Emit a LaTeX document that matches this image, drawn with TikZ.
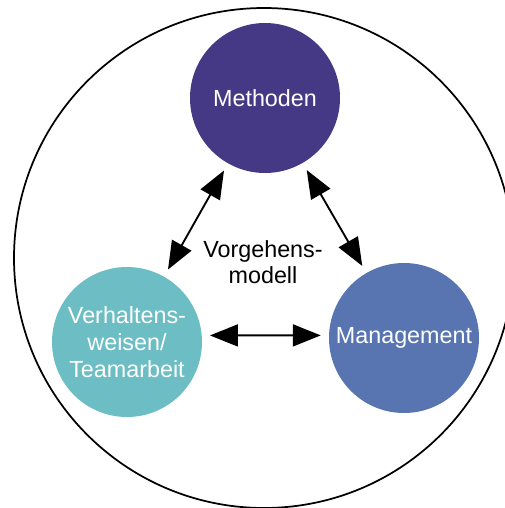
\documentclass[tikz,border=0pt]{standalone}
\usepackage{fontspec}
\setmainfont{Liberation Sans}
\usetikzlibrary{arrows.meta}

\definecolor{methoden}{RGB}{69,57,133}
\definecolor{verhalten}{RGB}{108,190,196}
\definecolor{management}{RGB}{88,117,178}

\begin{document}
\begin{tikzpicture}[x=0.75pt, y=-0.75pt]

\tikzstyle{box1}=[circle, inner sep=0pt, minimum size=112.5pt, text=white, align=center, font=\fontsize{17.5}{20}\selectfont]
\tikzstyle{biarrow}=[{Triangle[length=21pt,width=16.5pt]}-{Triangle[length=21pt,width=16.5pt]}, line width=1.4pt, shorten >=6pt, shorten <=6pt]

\useasboundingbox (0,0) rectangle (505,508);
\clip (0,0) rectangle (505,508);

\node (R) [circle, draw, line width=1.3pt, minimum size=375pt, inner sep=0pt] at (264,258) {};

\node (M) [box1, fill=methoden]   at (265,98)  {Methoden};
\node (V) [box1, fill=verhalten]  at (127,342) {Verhaltens-\\weisen/\\Teamarbeit};
\node (G) [box1, fill=management] at (404,338) {Management};

\node (T) [align=center, font=\fontsize{17.5}{20}\selectfont] at (263,262) {Vorgehens-\\modell};

\draw [biarrow] (M) -- (V);
\draw [biarrow] (M) -- (G);
\draw [biarrow] (V.5) -- (G.178);

\end{tikzpicture}
\end{document}
